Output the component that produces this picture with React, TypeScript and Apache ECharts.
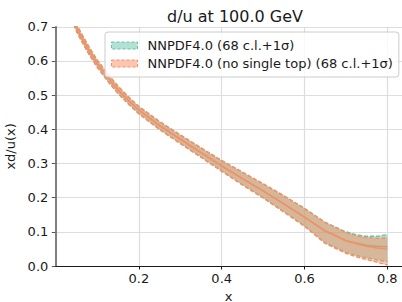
import React, { useEffect, useRef } from "react";
import * as echarts from "echarts";

const xs = [0.02, 0.035, 0.05, 0.06, 0.08, 0.1, 0.125, 0.15, 0.175, 0.2, 0.25, 0.3, 0.35, 0.4, 0.45, 0.5, 0.55, 0.6, 0.65, 0.7, 0.725, 0.75, 0.775, 0.8];

const greenCentral = [0.8, 0.74, 0.695, 0.672, 0.629, 0.591, 0.551, 0.515, 0.484, 0.456, 0.411, 0.371, 0.332, 0.293, 0.256, 0.22, 0.182, 0.143, 0.103, 0.075, 0.067, 0.061, 0.058, 0.056];
const greenUpper = [0.81, 0.75, 0.705, 0.682, 0.639, 0.601, 0.561, 0.525, 0.494, 0.466, 0.422, 0.383, 0.345, 0.308, 0.274, 0.24, 0.205, 0.169, 0.128, 0.1, 0.092, 0.087, 0.087, 0.092];
const greenLower = [0.79, 0.73, 0.685, 0.662, 0.619, 0.581, 0.541, 0.505, 0.474, 0.446, 0.4, 0.359, 0.319, 0.278, 0.238, 0.2, 0.159, 0.117, 0.068, 0.04, 0.031, 0.024, 0.018, 0.013];

const orangeCentral = [0.8, 0.74, 0.695, 0.672, 0.629, 0.591, 0.551, 0.515, 0.484, 0.456, 0.411, 0.371, 0.332, 0.293, 0.256, 0.22, 0.182, 0.143, 0.102, 0.074, 0.065, 0.058, 0.053, 0.05];
const orangeUpper = [0.811, 0.751, 0.706, 0.683, 0.64, 0.602, 0.562, 0.526, 0.495, 0.467, 0.423, 0.384, 0.346, 0.309, 0.275, 0.241, 0.206, 0.168, 0.127, 0.098, 0.088, 0.083, 0.081, 0.083];
const orangeLower = [0.789, 0.729, 0.684, 0.661, 0.618, 0.58, 0.54, 0.504, 0.473, 0.445, 0.399, 0.358, 0.318, 0.277, 0.237, 0.199, 0.158, 0.116, 0.066, 0.037, 0.027, 0.019, 0.011, 0.003];

const xTicks = [0.2, 0.4, 0.6, 0.8];
const legendNames = ["NNPDF4.0 (68 c.l.+1σ)", "NNPDF4.0 (no single top) (68 c.l.+1σ)"];

const GREEN = "#66c2a5";
const ORANGE = "#fc8d62";
const FONT = "DejaVu Sans";
const INK = "#1a1a1a";

function pairs(vals: number[]) {
  return xs.map((x, i) => [x, vals[i]]);
}

function bandSeries(name: string, color: string, fill: string, upper: number[], lower: number[], central: number[], z: number) {
  const edge = (vals: number[], suffix: string) => ({
    type: "line",
    name: name + suffix,
    data: pairs(vals),
    symbol: "none",
    lineStyle: { color, width: 1.3, type: [4, 2] },
    z: z + 1,
    silent: true,
  });
  return [
    {
      type: "custom",
      name,
      clip: true,
      silent: true,
      z,
      itemStyle: { color: fill },
      data: [[xs[0], upper[0]]],
      renderItem: (_params: any, api: any) => {
        const pts: number[][] = [];
        for (let i = 0; i < xs.length; i++) pts.push(api.coord([xs[i], upper[i]]));
        for (let i = xs.length - 1; i >= 0; i--) pts.push(api.coord([xs[i], lower[i]]));
        return { type: "polygon", shape: { points: pts }, style: { fill, stroke: "none" } };
      },
    },
    edge(upper, "_up"),
    edge(lower, "_lo"),
    {
      type: "line",
      name: name + "_c",
      data: pairs(central),
      symbol: "none",
      lineStyle: { color, width: 1.5 },
      z: z + 4,
      silent: true,
    },
  ];
}

export default function App() {
  const ref = useRef<HTMLDivElement>(null);
  useEffect(() => {
    if (!ref.current) return;
    const chart = echarts.init(ref.current, null, { renderer: "svg" });
    const option = {
      animation: false,
      backgroundColor: "#ffffff",
      textStyle: { fontFamily: FONT },
      title: {
        text: "d/u at 100.0 GeV",
        left: 230,
        top: 3,
        textAlign: "center",
        textStyle: { fontFamily: FONT, fontSize: 16, fontWeight: "normal", color: INK },
      },
      legend: {
        orient: "vertical",
        left: 105,
        top: 32,
        padding: [6, 6, 6, 6],
        itemWidth: 26,
        itemHeight: 7,
        itemGap: 3,
        backgroundColor: "rgba(255,255,255,0.8)",
        borderColor: "#cccccc",
        borderWidth: 1,
        borderRadius: 3,
        selectedMode: false,
        z: 20,
        textStyle: { fontFamily: FONT, fontSize: 13, color: INK, lineHeight: 15, padding: [0, 0, 0, 5] },
        data: [
          {
            name: legendNames[0],
            icon: "rect",
            itemStyle: { color: "rgba(178,224,210,1)", borderColor: GREEN, borderWidth: 1, borderType: [3, 2] },
          },
          {
            name: legendNames[1],
            icon: "rect",
            itemStyle: { color: "rgba(253,198,176,1)", borderColor: ORANGE, borderWidth: 1, borderType: [3, 2] },
          },
        ],
      },
      grid: { left: 55.3, right: 0, top: 26.8, bottom: 36, containLabel: false, outerBoundsMode: "none" },
      xAxis: {
        type: "value",
        min: -0.002,
        max: 0.8355,
        name: "x",
        nameLocation: "middle",
        nameGap: 15,
        nameTextStyle: { fontFamily: FONT, fontSize: 13, color: INK, verticalAlign: "top" },
        axisLine: { show: true, onZero: false, lineStyle: { color: INK, width: 1.2 } },
        axisTick: { show: true, length: 3.5, lineStyle: { color: INK, width: 1 }, customValues: xTicks },
        axisLabel: {
          customValues: xTicks,
          formatter: (v: number) => v.toFixed(1),
          fontFamily: FONT,
          fontSize: 13,
          color: INK,
          margin: 6,
        },
        splitLine: { show: true, lineStyle: { color: "#dddddd", width: 1.2 } },
      },
      yAxis: {
        type: "value",
        min: 0,
        max: 0.7,
        interval: 0.1,
        name: "xd/u(x)",
        nameLocation: "middle",
        nameGap: 35,
        nameTextStyle: { fontFamily: FONT, fontSize: 13, color: INK },
        axisLine: { show: true, onZero: false, lineStyle: { color: "#555555", width: 1.5 } },
        axisTick: { show: true, length: 3.5, lineStyle: { color: "#555555", width: 1 } },
        axisLabel: {
          formatter: (v: number) => v.toFixed(1),
          fontFamily: FONT,
          fontSize: 13,
          color: INK,
          margin: 7,
        },
        splitLine: { show: true, lineStyle: { color: "#dddddd", width: 1.2 } },
      },
      series: [
        ...bandSeries(legendNames[0], GREEN, "rgba(102,194,165,0.5)", greenUpper, greenLower, greenCentral, 2),
        ...bandSeries(legendNames[1], ORANGE, "rgba(252,141,98,0.5)", orangeUpper, orangeLower, orangeCentral, 7),
      ],
    };
    chart.setOption(option as any);
    return () => chart.dispose();
  }, []);
  return <div ref={ref} style={{ position: "absolute", left: 0, top: 0, width: 402, height: 302 }} />;
}
